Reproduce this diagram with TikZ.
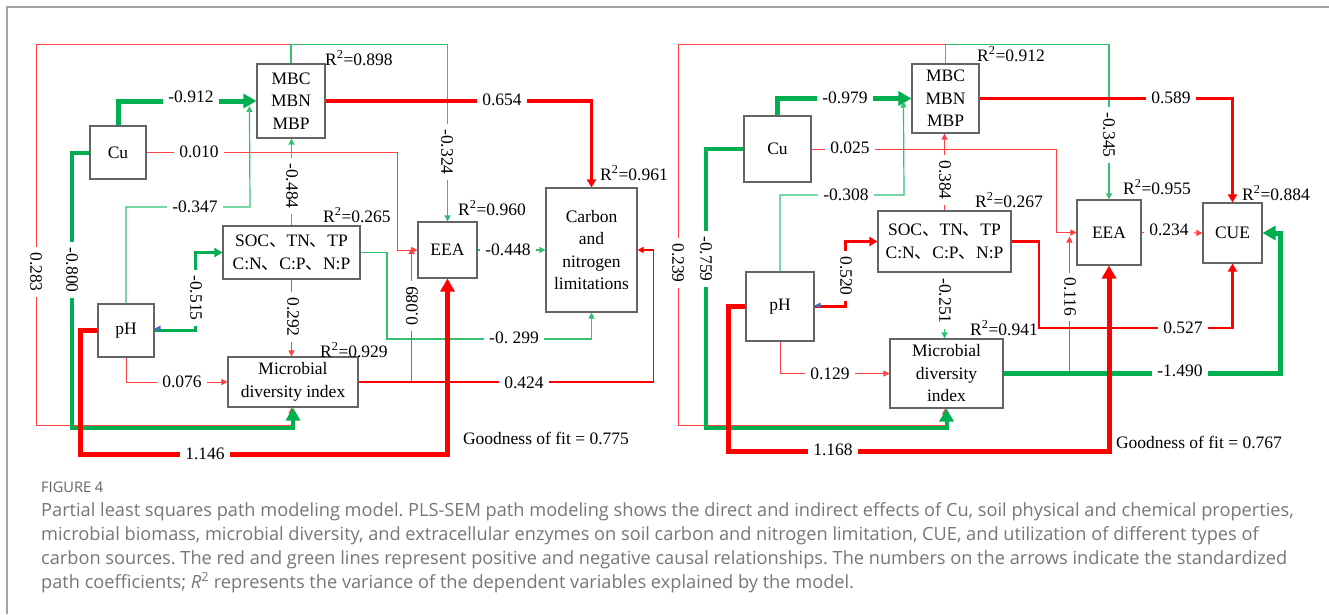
\documentclass[tikz,border=0pt]{standalone}
\usepackage{fontspec}
\setmainfont{Liberation Serif}
\newfontfamily\cjk{Noto Sans CJK SC}
\newfontfamily\capfont{Open Sans}
\usetikzlibrary{arrows.meta,calc}
\frenchspacing

\definecolor{posRed}{RGB}{255,0,0}
\definecolor{negGreen}{RGB}{0,176,80}
\definecolor{boxGray}{RGB}{100,100,100}
\definecolor{capGray}{RGB}{118,118,118}
\definecolor{tipBlue}{RGB}{60,110,200}
\newcommand{\dun}{{\cjk 、}}
\newcommand{\rsq}[1]{R\textsuperscript{2}=#1}

\begin{document}
\begin{tikzpicture}[
        x=1pt, y=-1pt,
        varBox/.style={
            draw=boxGray,
            line width=1.1pt,
            inner sep=0pt,
            align=center,
            font=\fontsize{17.5}{22.5}\selectfont
        },
        coefLabel/.style={
            fill=white,
            inner xsep=5pt,
            inner ysep=1pt,
            font=\fontsize{17.5}{21}\selectfont
        },
        rsqLabel/.style={
            anchor=west,
            inner sep=0pt,
            font=\fontsize{17.5}{21}\selectfont
        },
        capLine/.style={
            anchor=base west,
            inner sep=0pt,
            text=capGray,
            font=\capfont\fontsize{18.2}{22}\selectfont
        },
        smallTip/.style={-{Triangle[length=6pt,width=6pt]}},
        midTip/.style={-{Triangle[length=8pt,width=9pt]}},
        bigTip/.style={-{Triangle[length=13pt,width=14pt]}},
        posThin/.style={draw=posRed!75, line width=1pt, smallTip},
        negThin/.style={draw=negGreen!80, line width=1.2pt, smallTip},
        posMid/.style={draw=posRed, line width=3.5pt, midTip},
        negMid/.style={draw=negGreen, line width=3.2pt, midTip},
        posThick/.style={draw=posRed, line width=5pt, bigTip},
        negThick/.style={draw=negGreen, line width=5pt, bigTip}
    ]

        \useasboundingbox (0,0) rectangle (1329,614);

        % Page frame
        \draw[boxGray!60, line width=1.2pt] (1329,7) -- (7,7) -- (7,614);

        % Left model: variables
        \node[varBox, minimum width=56pt, minimum height=53pt] (cuA) at (118,152.5) {Cu};
        \node[varBox, minimum width=68pt, minimum height=74pt] (mbA) at (291,101) {MBC\\MBN\\MBP};
        \node[varBox, minimum width=137pt, minimum height=53pt] (socA) at (291.5,252.5)
            {SOC\dun TN\dun TP\\C:N\dun C:P\dun N:P};
        \node[varBox, minimum width=56pt, minimum height=53pt] (phA) at (126,330.5) {pH};
        \node[varBox, minimum width=130pt, minimum height=50pt] (divA) at (293,382)
            {Microbial\\diversity index};
        \node[varBox, minimum width=59pt, minimum height=56pt] (eeaA) at (447.5,250) {EEA};
        \node[varBox, minimum width=91pt, minimum height=124pt] (cnA) at (591.5,250)
            {Carbon\\and\\nitrogen\\limitations};

        % Left model: paths
        \draw[posThin] (mbA.north) -- ++(0,-19) -| (36,425) -| ([xshift=-1.5]divA.south);
        \draw[negThin] (mbA.north) -- ++(0,-19) -| (eeaA.north);
        \draw[negThick, line width=4pt] (cuA.west) -| (72,428) -| (divA.south);
        \draw[negThick] (cuA.north) |- (mbA.west);
        \draw[posThin] (cuA.east) -| ([xshift=-20]eeaA.west) -- (eeaA.west);
        \draw[negThin] (phA.north) |- (250,207) -- ([xshift=-7,yshift=-5]mbA.west);
        \draw[negThin] (socA.north) -- (socA.north |- mbA.south);
        \draw[posMid] (mbA.east) -| (cnA.north);
        \draw[negThin] (eeaA.east) -- (cnA.west);
        \draw[negMid] (phA.east) -| ([xshift=-27]socA.west) -- (socA.west);
        \draw[posThin] (socA.south) -- (socA.south |- divA.north);
        \draw[negThin] (socA.east) -| (387,339) -| (cnA.south);
        \draw[posThin] (phA.south) |- (divA.west);
        \draw[posThin] (divA.east) -| ([xshift=-6,yshift=2]eeaA.west);
        \draw[posMid, line width=1.8pt, smallTip] (divA.east) -| ([xshift=16]cnA.east) -- (cnA.east);
        \draw[posThick] (phA.west) -| (80,454) -| (eeaA.south);
        \fill[tipBlue] ([yshift=2]phA.east) -- ++(6,3) -- ++(0,-6) -- cycle;

        % Left model: coefficients
        \node[coefLabel] (k912) at (191,97) {-0.912};
        \node[coefLabel] (k010) at (199,152) {0.010};
        \node[coefLabel] (k347) at (195,207) {-0.347};
        \node[coefLabel] (k654) at (502,100) {0.654};
        \node[coefLabel, rotate=-90] (k484) at (292,186) {-0.484};
        \node[coefLabel, rotate=-90] (k324) at (447,152) {-0.324};
        \node[coefLabel, rotate=-90] (k283) at (36,272) {0.283};
        \node[coefLabel, rotate=-90] (k800) at (72,270) {-0.800};
        \node[coefLabel, rotate=-90] (k515) at (196,298) {-0.515};
        \node[coefLabel, rotate=-90] (k292) at (293,317) {0.292};
        \node[coefLabel, rotate=90] (k089) at (412,306) {0.089};
        \node[coefLabel] (k448) at (508,250) {-0.448};
        \node[coefLabel] (k299) at (514,338) {-0. 299};
        \node[coefLabel] (k424) at (524,383) {0.424};
        \node[coefLabel] (k076) at (182,382) {0.076};
        \node[coefLabel] (k146) at (205,454) {1.146};

        % Left model: explained variance
        \node[rsqLabel] (r898) at (325,58) {\rsq{0.898}};
        \node[rsqLabel] (r265) at (323,215) {\rsq{0.265}};
        \node[rsqLabel] (r929) at (320,350) {\rsq{0.929}};
        \node[rsqLabel] (r960) at (458,208) {\rsq{0.960}};
        \node[rsqLabel] (r961) at (600,173) {\rsq{0.961}};
        \node[font=\fontsize{17.5}{21}\selectfont] (fitA) at (546,438) {Goodness of fit = 0.775};

        % Right model: variables
        \node[varBox, minimum width=67pt, minimum height=66pt] (cuB) at (777.5,149) {Cu};
        \node[varBox, minimum width=67pt, minimum height=69pt] (mbB) at (945.5,98.5) {MBC\\MBN\\MBP};
        \node[varBox, minimum width=133pt, minimum height=61pt] (socB) at (944.5,241.5)
            {SOC\dun TN\dun TP\\C:N\dun C:P\dun N:P};
        \node[varBox, minimum width=68pt, minimum height=69pt] (phB) at (780,306.5) {pH};
        \node[varBox, minimum width=113pt, minimum height=69pt] (divB) at (946.5,373.5)
            {Microbial\\diversity\\index};
        \node[varBox, minimum width=64pt, minimum height=65pt] (eeaB) at (1109,232.5) {EEA};
        \node[varBox, minimum width=59pt, minimum height=60pt] (cueB) at (1232.5,233) {CUE};

        % Right model: paths
        \draw[posThin] (mbB.north) -- ++(0,-19) -| (678,425) -| ([xshift=-1.5]divB.south);
        \draw[negThin, line width=1.5pt] (mbB.north) -- ++(0,-19) -| (eeaB.north);
        \draw[negThick, line width=4pt] (cuB.west) -| (706,428) -| (divB.south);
        \draw[negThick] (cuB.north) |- (mbB.west);
        \draw[posThin] (cuB.east) -| ([xshift=-20]eeaB.west) -- (eeaB.west);
        \draw[negThin] (phB.north) |- (904,195) -- ([xshift=-8,yshift=-3]mbB.west);
        \draw[posThin] (socB.north) -- (socB.north |- mbB.south);
        \draw[posMid] (mbB.east) -| (cueB.north);
        \draw[posThin] (eeaB.east) -- (cueB.west);
        \draw[posMid, line width=3pt] (phB.east) -| ([xshift=-32]socB.west) -- (socB.west);
        \draw[negThin] (socB.south) -- (socB.south |- divB.north);
        \draw[posThin] (phB.south) |- (divB.west);
        \draw[posMid, line width=2.5pt] (socB.east) -| (1039,328) -| (cueB.south);
        \draw[posThin] (divB.east) -| ([xshift=-7,yshift=-4]eeaB.west);
        \draw[negThick] (divB.east) -| ([xshift=18]cueB.east) -- (cueB.east);
        \draw[posThick] (phB.west) -| (728,451) -| (eeaB.south);
        \fill[tipBlue] ([yshift=1]phB.east) -- ++(6,3) -- ++(0,-6) -- cycle;

        % Right model: coefficients
        \node[coefLabel] (k979) at (845,98) {-0.979};
        \node[coefLabel] (k025) at (850,148) {0.025};
        \node[coefLabel] (k308) at (846,195) {-0.308};
        \node[coefLabel] (k589) at (1171,98) {0.589};
        \node[coefLabel, rotate=-90] (k384) at (945,180) {0.384};
        \node[coefLabel, rotate=-90] (k345) at (1109,135) {-0.345};
        \node[coefLabel, rotate=-90] (k239) at (678,263) {0.239};
        \node[coefLabel, rotate=-90] (k759) at (706,259) {-0.759};
        \node[coefLabel, rotate=-90] (k520) at (846,276) {0.520};
        \node[coefLabel, rotate=-90] (k251) at (945,301) {-0.251};
        \node[coefLabel, rotate=-90] (k116) at (1070,297) {0.116};
        \node[coefLabel] (k234) at (1169,230) {0.234};
        \node[coefLabel] (k129) at (830,374) {0.129};
        \node[coefLabel] (k527) at (1183,328) {0.527};
        \node[coefLabel] (k490) at (1180,371) {-1.490};
        \node[coefLabel] (k168) at (833,450) {1.168};

        % Right model: explained variance
        \node[rsqLabel] (r912) at (977,54) {\rsq{0.912}};
        \node[rsqLabel] (r267) at (975,200) {\rsq{0.267}};
        \node[rsqLabel] (r941) at (970,328) {\rsq{0.941}};
        \node[rsqLabel] (r955) at (1123,187) {\rsq{0.955}};
        \node[rsqLabel] (r884) at (1242,193) {\rsq{0.884}};
        \node[font=\fontsize{17.5}{21}\selectfont] (fitB) at (1199,442) {Goodness of fit = 0.767};

        % Caption
        \node[capLine, text=capGray!85!black, font=\capfont\fontsize{14.6}{17}\selectfont] (figTag) at (41,492) {FIGURE 4};
        \node[capLine] (capL1) at (41,516) {Partial least squares path modeling model. PLS-SEM path modeling shows the direct and indirect effects of Cu, soil physical and chemical properties,};
        \node[capLine] (capL2) at (41,540) {microbial biomass, microbial diversity, and extracellular enzymes on soil carbon and nitrogen limitation, CUE, and utilization of different types of};
        \node[capLine] (capL3) at (41,564) {carbon sources. The red and green lines represent positive and negative causal relationships. The numbers on the arrows indicate the standardized};
        \node[capLine] (capL4) at (41,588) {path coefficients; \textit{R}\textsuperscript{2} represents the variance of the dependent variables explained by the model.};

    \end{tikzpicture}
\end{document}
